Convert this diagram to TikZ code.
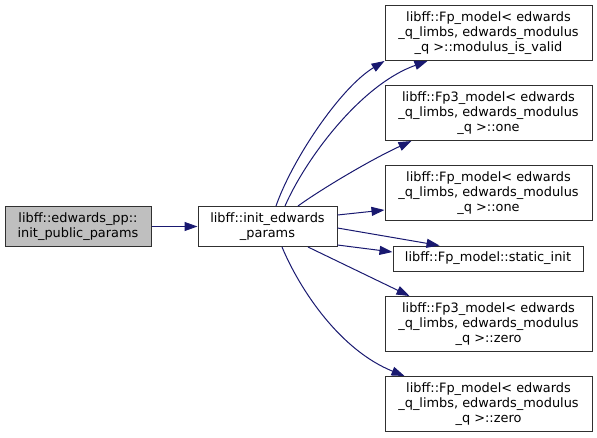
\documentclass[tikz,border=0pt]{standalone}
\usepackage{fontspec}
\setmainfont{DejaVu Sans}
\usepackage{tikz}
\usetikzlibrary{arrows.meta}
\definecolor{Edge}{HTML}{191970}
\definecolor{Frame}{HTML}{303030}
\definecolor{RootFill}{HTML}{BFBFBF}
\tikzset{
  fn/.style={draw=Frame,fill=white,line width=1pt,inner sep=0pt,align=center,font=\fontsize{12.9}{14.7}\selectfont},
  fnright/.style={fn,minimum width=207pt,minimum height=55pt},
  fnroot/.style={fn,fill=RootFill,minimum width=146pt,minimum height=40pt},
  call/.style={-{Triangle[length=13pt,width=9pt]},draw=Edge,line width=1pt}
}
\begin{document}
\begin{tikzpicture}[x=1pt,y=-1pt]
  \useasboundingbox (0,0) rectangle (597,437);
  \node[fnroot] (root) at (78,226.5) {libff::edwards\_pp::\\init\_public\_params};
  \node[fn,minimum width=139pt,minimum height=40pt] (init) at (267.5,226.5) {libff::init\_edwards\\\_params};
  \node[fnright] (modvalid) at (488.5,33) {libff::Fp\_model< edwards\\\_q\_limbs, edwards\_modulus\\\_q >::modulus\_is\_valid};
  \node[fnright] (fp3one) at (488.5,113) {libff::Fp3\_model< edwards\\\_q\_limbs, edwards\_modulus\\\_q >::one};
  \node[fnright] (fpone) at (488.5,193) {libff::Fp\_model< edwards\\\_q\_limbs, edwards\_modulus\\\_q >::one};
  \node[fn,minimum width=190pt,minimum height=25pt] (sinit) at (488,258.5) {libff::Fp\_model::static\_init};
  \node[fnright] (fp3zero) at (488.5,324) {libff::Fp3\_model< edwards\\\_q\_limbs, edwards\_modulus\\\_q >::zero};
  \node[fnright] (fpzero) at (488.5,404) {libff::Fp\_model< edwards\\\_q\_limbs, edwards\_modulus\\\_q >::zero};

  % calls
  \draw[call] (root) -- (init);
  \draw[call] ([xshift=8.5pt]init.north) .. controls (292,160) and (340,88) .. (modvalid.south west);
  \draw[call] ([xshift=17.5pt]init.north) .. controls (305,160) and (360,85) .. ([xshift=43pt]modvalid.south west);
  \draw[call] ([xshift=30.5pt]init.north) .. controls (320,190) and (370,160) .. ([xshift=27pt]fp3one.south west);
  \draw[call] ([yshift=11.5pt]init.east) -- ([yshift=11pt]fpone.south west);
  \draw[call] ([yshift=-1.5pt]init.east) -- ([xshift=47pt]sinit.north west);
  \draw[call] ([yshift=-18.5pt]init.east) -- ([yshift=6.5pt]sinit.west);
  \draw[call] ([xshift=40.5pt]init.south) -- ([xshift=25pt]fp3zero.north west);
  \draw[call] ([xshift=14.5pt]init.south) .. controls (300,290) and (340,350) .. ([xshift=20pt]fpzero.north west);
\end{tikzpicture}
\end{document}
